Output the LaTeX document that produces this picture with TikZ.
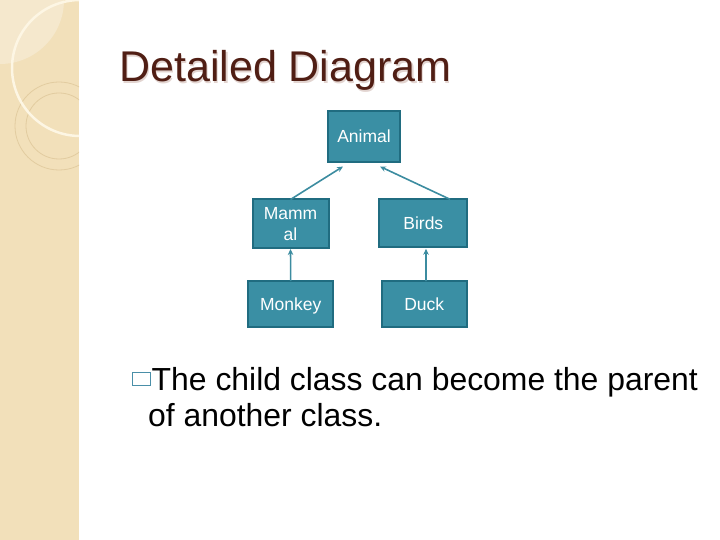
\documentclass[tikz,border=0pt]{standalone}
\usepackage{fontspec}
\setmainfont{Liberation Sans}
\usetikzlibrary{arrows.meta}
\definecolor{stripbg}{RGB}{242,224,186}
\definecolor{stripbglight}{RGB}{245,232,205}
\definecolor{stripline}{RGB}{226,204,160}
\definecolor{arcwhite}{RGB}{253,246,228}
\definecolor{titlebrown}{RGB}{80,30,20}
\definecolor{titleshadow}{RGB}{226,212,208}
\definecolor{boxfill}{RGB}{58,143,164}
\definecolor{boxborder}{RGB}{32,108,128}
\definecolor{connline}{RGB}{60,140,160}
\definecolor{bulletcol}{RGB}{74,143,168}
\begin{document}
\begin{tikzpicture}[x=1bp,y=-1bp,
  classbox/.style={draw=boxborder, line width=2bp, fill=boxfill, text=white,
    inner sep=0pt, align=center, text depth=0pt, font=\fontsize{17.5bp}{21bp}\selectfont},
  conn/.style={draw=connline, line width=1.6bp, -{Stealth[length=6bp,width=5.5bp]}},
  bodytext/.style={anchor=base west, inner sep=0pt, font=\fontsize{31.9bp}{36bp}\selectfont}
]
\useasboundingbox (0,0) rectangle (720,540);
% side strip
\fill[stripbg] (0,0) rectangle (79,540);
\begin{scope}
  \clip (0,0) rectangle (79,540);
  \fill[stripbglight] (0,0) circle[radius=64];
  \draw[stripline, line width=0.8bp] (59,126) circle[radius=44];
  \draw[stripline, line width=0.8bp] (59,126) circle[radius=33];
  \draw[arcwhite, line width=2.5bp] (80,68) circle[radius=68];
\end{scope}
% title
\node[anchor=base west, inner sep=0pt, font=\fontsize{43bp}{48bp}\selectfont, text=titleshadow] at (120.5,83.5) {Detailed Diagram};
\node[anchor=base west, inner sep=0pt, font=\fontsize{43bp}{48bp}\selectfont, text=titlebrown] (title) at (119,82) {Detailed Diagram};
% boxes
\node[classbox, minimum width=72bp, minimum height=51bp] (animal) at (364,136.5) {Animal};
\node[classbox, minimum width=76bp, minimum height=48bp] (mammal) at (290.5,223.5) {Mamm\\al};
\node[classbox, minimum width=88bp, minimum height=48bp] (birds) at (423.3,223.3) {Birds};
\node[classbox, minimum width=85bp, minimum height=46bp] (monkey) at (290.7,304) {Monkey};
\node[classbox, minimum width=85bp, minimum height=46bp] (duck) at (424.2,304) {Duck};
% connectors
\draw[conn] ([yshift=-1bp]mammal.north) -- ([xshift=-21bp,yshift=-3.5bp]animal.south);
\draw[conn] ([xshift=26.7bp,yshift=-1bp]birds.north) -- ([xshift=16bp,yshift=-3.5bp]animal.south);
\draw[conn] ([yshift=-1bp]monkey.north) -- ([yshift=-0.5bp]mammal.south);
\draw[conn] ([xshift=1.8bp,yshift=-1bp]duck.north) -- ([xshift=2.7bp,yshift=-0.5bp]birds.south);
% bullet text
\node[draw=bulletcol, line width=1.3bp, minimum width=18bp, minimum height=13bp, inner sep=0pt] (bullet) at (141.5,379) {};
\node[bodytext] (line1) at (151.5,390) {The child class can become the parent};
\node[bodytext] (line2) at (148,426) {of another class.};
\end{tikzpicture}
\end{document}
